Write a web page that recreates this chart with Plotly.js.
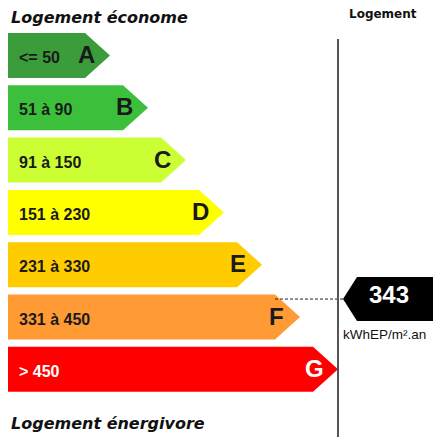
<!DOCTYPE html>
<html>
<head>
<meta charset="utf-8">
<script src="https://cdn.plot.ly/plotly-3.0.1.min.js"></script>
<style>html,body{margin:0;padding:0;background:#fff;}#chart{width:433px;height:437px;}</style>
</head>
<body>
<div id="chart"></div>
<script>
// ---- data ----
const categories = ['A', 'B', 'C', 'D', 'E', 'F', 'G'];
const rangeLabels = ['<= 50', '51 à 90', '91 à 150', '151 à 230', '231 à 330', '331 à 450', '> 450'];
const rangeLow = [0, 51, 91, 151, 231, 331, 451];
const rangeHigh = [50, 90, 150, 230, 330, 450, 600];
const classColors = ['#3a9c3a', '#3cc03c', '#ccff33', '#ffff00', '#ffcc00', '#ff9a35', '#ff0000'];
const textColors = ['#1a1a1a', '#1a1a1a', '#1a1a1a', '#1a1a1a', '#1a1a1a', '#1a1a1a', '#ffffff'];
const housingValue = 343;
const unitLabel = 'kWhEP/m².an';
const topTitle = 'Logement économe';
const bottomTitle = 'Logement énergivore';
const columnTitle = 'Logement';

// ---- geometry (layout only) ----
const left = 8, top0 = 33, pitch = 52.3, barH = 45;
const rectBase = 85, rectStep = 38, tipW = 25;
const lineX = 338;

const traces = [];
const annotations = [];
categories.forEach((c, i) => {
  const t = top0 + i * pitch, b = t + barH, m = t + barH / 2;
  const r = rectBase + i * rectStep, tip = r + tipW;
  traces.push({
    type: 'scatter', mode: 'lines', fill: 'toself',
    x: [left, r, tip, r, left, left],
    y: [t, t, m, b, b, t],
    fillcolor: classColors[i], line: {width: 0, color: classColors[i]},
    hoverinfo: 'skip'
  });
  annotations.push({
    x: left + 9, y: m + 2, xref: 'x', yref: 'y', xanchor: 'left', yanchor: 'middle',
    text: '<b>' + rangeLabels[i].replace('<', '&lt;').replace('>', '&gt;') + '</b>', showarrow: false,
    font: {family: '"Liberation Sans", Arial, sans-serif', size: 16, color: textColors[i]}
  });
  annotations.push({
    x: r + 1, y: m - 1, xref: 'x', yref: 'y', xanchor: 'center', yanchor: 'middle',
    text: '<b>' + c + '</b>', showarrow: false,
    font: {family: '"Liberation Sans", Arial, sans-serif', size: 24, color: textColors[i]}
  });
});

// marker position derived from value
let k = 0;
for (let i = 0; i < categories.length; i++) {
  if (housingValue >= rangeLow[i] && housingValue <= rangeHigh[i]) { k = i; break; }
}
const frac = (housingValue - rangeLow[k]) / (rangeHigh[k] - rangeLow[k]);
const vy = top0 + k * pitch + frac * barH;
const rEndK = rectBase + k * rectStep;
const mTip = 343, mH = 22;

// dashed connector
traces.push({
  type: 'scatter', mode: 'lines', x: [rEndK, mTip], y: [vy, vy],
  line: {color: '#222', width: 1, dash: '3px,2px'}, hoverinfo: 'skip'
});
// vertical divider
traces.push({
  type: 'scatter', mode: 'lines', x: [lineX, lineX], y: [39, 437],
  line: {color: '#555', width: 2}, hoverinfo: 'skip'
});
// black value marker
traces.push({
  type: 'scatter', mode: 'lines', fill: 'toself',
  x: [mTip, mTip + 14, 440, 440, mTip + 14, mTip],
  y: [vy, vy - mH, vy - mH, vy + mH, vy + mH, vy],
  fillcolor: '#000', line: {width: 0, color: '#000'}, hoverinfo: 'skip'
});

annotations.push({
  x: 389, y: vy - 5, xref: 'x', yref: 'y', xanchor: 'center', yanchor: 'middle',
  text: '<b>' + housingValue + '</b>', showarrow: false,
  font: {family: '"Liberation Sans", Arial, sans-serif', size: 24, color: '#fff'}
});
annotations.push({
  x: 341, y: vy + 35, xref: 'x', yref: 'y', xanchor: 'left', yanchor: 'middle',
  text: unitLabel, showarrow: false,
  font: {family: '"Liberation Sans", Arial, sans-serif', size: 13.5, color: '#111'}
});
annotations.push({
  x: 383, y: 14, xref: 'x', yref: 'y', xanchor: 'center', yanchor: 'middle',
  text: '<b>' + columnTitle + '</b>', showarrow: false,
  font: {family: '"DejaVu Sans", sans-serif', size: 12, color: '#111'}
});
annotations.push({
  x: 9, y: 17, xref: 'x', yref: 'y', xanchor: 'left', yanchor: 'middle',
  text: '<b><i>' + topTitle + '</i></b>', showarrow: false,
  font: {family: '"DejaVu Sans", sans-serif', size: 16, color: '#111'}
});
annotations.push({
  x: 9, y: 423, xref: 'x', yref: 'y', xanchor: 'left', yanchor: 'middle',
  text: '<b><i>' + bottomTitle + '</i></b>', showarrow: false,
  font: {family: '"DejaVu Sans", sans-serif', size: 16, color: '#111'}
});

const layout = {
  width: 433, height: 437,
  margin: {l: 0, r: 0, t: 0, b: 0, pad: 0},
  paper_bgcolor: '#fff', plot_bgcolor: '#fff',
  showlegend: false,
  xaxis: {range: [0, 433], visible: false, fixedrange: true},
  yaxis: {range: [437, 0], visible: false, fixedrange: true},
  annotations: annotations
};
Plotly.newPlot('chart', traces, layout, {staticPlot: true, displayModeBar: false});
</script>
</body>
</html>
